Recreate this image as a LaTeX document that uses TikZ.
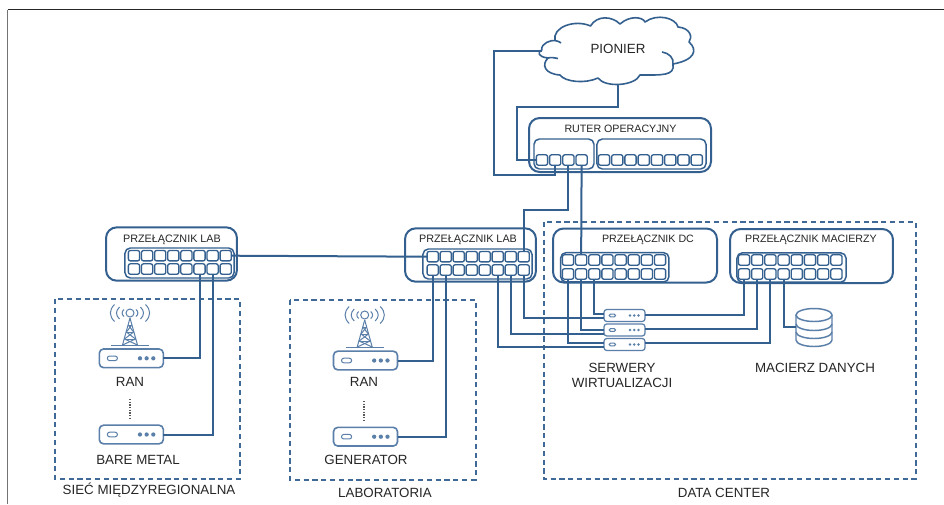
\documentclass[tikz,border=0pt]{standalone}
\usepackage{fontspec}
\setmainfont{Liberation Sans}
\usetikzlibrary{calc}
\definecolor{netblue}{HTML}{34608F}
\definecolor{zoneblue}{HTML}{3F6A98}
\definecolor{iconblue}{HTML}{5A7FA8}
\definecolor{inkdark}{HTML}{262626}
\tikzset{
  wire/.style={draw=netblue,line width=1.5pt},
  outerbox/.style={draw=netblue,line width=1.5pt,rounded corners=8pt,fill=white},
  innerbox/.style={draw=netblue,line width=1.1pt,rounded corners=4pt,fill=white},
  portbox/.style={draw=netblue,line width=1pt,rounded corners=1.5pt,fill=white,minimum width=8.4pt,minimum height=7.8pt,inner sep=0pt,outer sep=0pt},
  zone/.style={draw=zoneblue,line width=1.5pt,dash pattern=on 3.9pt off 2.7pt},
  lbl/.style={text=inkdark,font=\fontsize{10}{12}\selectfont,inner sep=0pt},
  hdr/.style={text=inkdark,font=\fontsize{8}{10}\selectfont,inner sep=0pt},
  hdrl/.style={text=inkdark,font=\fontsize{8.1}{10}\selectfont,inner sep=0pt},
  icon/.style={draw=iconblue,line width=.75pt},
}
\newcommand{\portrow}[5]{% name, x0, dx, y, n
  \foreach \i in {1,...,#5}{\node[portbox] (#1\i) at ({#2+(\i-1)*#3},#4) {};}}
\newcommand{\device}[4]{% name, cx, cy, scale
  \node[draw=iconblue,line width={.45pt+.75pt*#4},fill=white,rounded corners={3.2pt*#4},minimum width={48pt*#4},minimum height={14pt*#4},inner sep=0pt,outer sep=0pt] (#1) at (#2,#3) {};
  \node[draw=iconblue,line width=.75pt,rounded corners={1.6pt*#4},minimum width={7.5pt*#4},minimum height={3.4pt*#4},inner sep=0pt] (#1p) at ([xshift={9.8pt*#4}]#1.west) {};
  \fill[iconblue] ([xshift={-7.5pt*#4}]#1.east) circle[radius={1.6pt*#4}]
                 ([xshift={-12.5pt*#4}]#1.east) circle[radius={1.6pt*#4}]
                 ([xshift={-17.5pt*#4}]#1.east) circle[radius={1.6pt*#4}];}
\newcommand{\tower}[2]{% cx, y0 (centre of the small circle)
  \draw[icon] (#1,#2) circle[radius=4];
  \foreach \s in {-1,1}{
    \draw[icon] ({#1+\s*6},{#2-3.5}) .. controls ({#1+\s*8.5},{#2-1.5}) and ({#1+\s*8.5},{#2+1.5}) .. ({#1+\s*6},{#2+3.5});
    \draw[icon] ({#1+\s*10.5},{#2-6}) .. controls ({#1+\s*14.5},{#2-2}) and ({#1+\s*14.5},{#2+2}) .. ({#1+\s*10.5},{#2+6});
    \draw[icon] ({#1+\s*15.5},{#2-8.5}) .. controls ({#1+\s*21},{#2-3}) and ({#1+\s*21},{#2+3}) .. ({#1+\s*15.5},{#2+8.5});
    \draw[icon] (#1,{#2+5}) -- ({#1+\s*7.5},{#2+32});
    \draw[icon] ({#1+\s*1.8},{#2+12}) -- ({#1-\s*3.6},{#2+19}) -- ({#1+\s*5.5},{#2+26}) -- ({#1-\s*7.5},{#2+32});
  }
  \draw[icon] ({#1-2},{#2+12}) -- ({#1+2},{#2+12}) ({#1-3.6},{#2+19}) -- ({#1+3.6},{#2+19}) ({#1-5.5},{#2+26}) -- ({#1+5.5},{#2+26});
  \draw[icon] ({#1-19},{#2+32}) -- ({#1+19},{#2+32});}
\begin{document}
\begin{tikzpicture}[x=.75pt,y=-.75pt]
\useasboundingbox (0,0) rectangle (944,504);
\fill[white] (0,0) rectangle (944,504);
% page frame
\draw[draw=black!85,line width=1pt] (944,9.5) -- (7.5,9.5);
\draw[draw=black!55,line width=1.3pt] (7.5,9.5) -- (7.5,504);
% zones
\draw[zone] (55,299) rectangle (240,479);
\draw[zone] (289.5,300) rectangle (475.5,479.5);
\draw[zone] (543.5,222) rectangle (915.5,479);
% cloud
\path[fill=white,draw=netblue,line width=1.2pt,line join=round]
  (541.7,50) .. controls (541,43) and (551,40) .. (555,40.5)
  .. controls (552,27) and (575,19) .. (590.5,26)
  .. controls (597,15) and (612,16) .. (620,24)
  .. controls (630,15) and (643,17) .. (645,22)
  .. controls (657,13) and (676,18) .. (678,27)
  .. controls (690,28) and (693,37) .. (689,42)
  .. controls (698,50) and (695,60) .. (673,64)
  .. controls (675,76) and (662,75) .. (640,75)
  .. controls (635,86) and (605,88) .. (598,78)
  .. controls (585,84) and (565,82) .. (560,75)
  .. controls (545,74) and (541,65) .. (548,58)
  .. controls (538,57) and (537,52) .. (541.7,50) -- cycle;
\draw[netblue,line width=1.2pt] (548,58) .. controls (551,57) and (555,58) .. (558,58.5);
\draw[netblue,line width=1.2pt] (673,64) .. controls (674,58) and (669,53) .. (662,52);
\draw[netblue,line width=1.2pt] (555,40.5) .. controls (558,41) and (560,42) .. (561,43);
\node[lbl] (pionier) at (618,49) {PIONIER};
\coordinate (cloudW) at (541.7,51);
\coordinate (cloudS) at (617.5,85);
% router
\node[outerbox,minimum width=136.5pt,minimum height=40.5pt,inner sep=0pt] (router) at (620,145) {};
\node[hdr] (routerT) at (620.5,129) {RUTER OPERACYJNY};
\node[innerbox,minimum width=45pt,minimum height=22.5pt,inner sep=0pt] (rleft) at (564,154) {};
\node[innerbox,minimum width=81.8pt,minimum height=22.5pt,inner sep=0pt] (rright) at (651.5,154) {};
\portrow{ra}{542}{13.2}{160}{4}
\portrow{rb}{604}{13.25}{160}{8}
% lab switch A
\node[outerbox,minimum width=98.2pt,minimum height=40pt,inner sep=0pt] (labA) at (171.5,254) {};
\node[hdrl] (labAT) at (172,240) {PRZEŁĄCZNIK LAB};
\node[innerbox,minimum width=81.8pt,minimum height=22.5pt,inner sep=0pt] (labAin) at (179.5,263) {};
\portrow{lat}{134}{13.1}{255.7}{8}
\portrow{lab}{134}{13.1}{269}{8}
% lab switch B
\node[outerbox,minimum width=98.2pt,minimum height=40pt,inner sep=0pt] (labB) at (470.5,255) {};
\node[hdrl] (labBT) at (468,240) {PRZEŁĄCZNIK LAB};
\node[innerbox,minimum width=81.8pt,minimum height=22.5pt,inner sep=0pt] (labBin) at (477.5,264) {};
\portrow{lbt}{432.7}{13}{256.7}{8}
\portrow{lbb}{432.7}{13}{270}{8}
% DC switch
\node[outerbox,minimum width=123pt,minimum height=40.5pt,inner sep=0pt] (dcsw) at (635,255.5) {};
\node[hdr] (dcT) at (648,240) {PRZEŁĄCZNIK DC};
\node[innerbox,minimum width=81.2pt,minimum height=22pt,inner sep=0pt] (dcin) at (614.8,267.3) {};
\portrow{dct}{568}{13.15}{260}{8}
\portrow{dcb}{568}{13.15}{274}{8}
% array switch
\node[outerbox,minimum width=122.2pt,minimum height=40.5pt,inner sep=0pt] (arrsw) at (811.5,256) {};
\node[hdr] (arrT) at (811,240) {PRZEŁĄCZNIK MACIERZY};
\node[innerbox,minimum width=81.8pt,minimum height=22pt,inner sep=0pt] (arrin) at (791.5,267.5) {};
\portrow{mat}{744}{13.2}{260}{8}
\portrow{mab}{744}{13.2}{274}{8}
% devices
\device{ranA}{131.3}{358.3}{1}
\device{bare}{131.3}{434.5}{1}
\device{ranB}{365.5}{360.5}{1}
\device{gen}{365.5}{436.7}{1}
\device{srvA}{624.5}{315.5}{.64}
\device{srvB}{624.5}{330}{.64}
\device{srvC}{624.5}{344.5}{.64}
% towers
\tower{130}{313}
\tower{364.7}{315}
% dotted separators
\draw[draw=black!65,line width=.8pt,dash pattern=on .9pt off 1.1pt] (130,399) -- (130,419);
\draw[draw=black!65,line width=.8pt,dash pattern=on .9pt off 1.1pt] (364,401) -- (364,421);
% database
\path[draw=iconblue,line width=1.1pt,fill=white]
  (796,315) -- (796,340) arc[start angle=180,end angle=360,x radius=18,y radius=-6.5] -- (832,315);
\draw[iconblue,line width=1.1pt] (814,315) ellipse[x radius=18,y radius=6.5];
\draw[iconblue,line width=1.1pt] (796,324) arc[start angle=180,end angle=360,x radius=18,y radius=-6.5];
\draw[iconblue,line width=1.1pt] (796,332) arc[start angle=180,end angle=360,x radius=18,y radius=-6.5];
\coordinate (dbW) at (796,326.7);
% routing waypoints
\coordinate (cloudJogA) at (494,175);
\coordinate (cloudJogB) at (517,107);
\coordinate (routerJog) at (523.7,210);
\coordinate (srvAl) at (604,318.3);
\coordinate (srvBl) at (604,334);
\coordinate (srvCl) at (604,347.3);
\coordinate (srvAd) at (604,314.3);
\coordinate (srvBd) at (604,329.7);
\coordinate (srvCd) at (604,343);
\coordinate (srvAr) at (645,315);
\coordinate (srvBr) at (645,329);
\coordinate (srvCr) at (645,342.7);
% connectors
\draw[wire] (ra2.south) |- (cloudJogA) |- (cloudW);
\draw[wire] (ra1.west) -| (cloudJogB) -| (cloudS);
\draw[wire] (ra3.south) |- (routerJog) -- (lbt8.north);
\draw[wire] (ra4.south) -- (dct2.north);
\draw[wire] (lat8.east) -- (lbt1.west);
\draw[wire] (lab6.south) |- (ranA.east);
\draw[wire] (lab7.south) |- (bare.east);
\draw[wire] (lbb1.south) |- (ranB.east);
\draw[wire] (lbb2.south) |- (gen.east);
\draw[wire] (lbb8.south) |- (srvAl);
\draw[wire] (lbb7.south) |- (srvBl);
\draw[wire] (lbb6.south) |- (srvCl);
\draw[wire] (dcb3.south) |- (srvAd);
\draw[wire] (dcb2.south) |- (srvBd);
\draw[wire] (dcb1.south) |- (srvCd);
\draw[wire] (mab1.south) |- (srvAr);
\draw[wire] (mab2.south) |- (srvBr);
\draw[wire] (mab3.south) |- (srvCr);
\draw[wire] (mab4.south) |- (dbW);
% labels
\node[lbl] (t1) at (130,382) {RAN};
\node[lbl] (t2) at (138,460) {BARE METAL};
\node[lbl] (t3) at (149,490) {SIEĆ MIĘDZYREGIONALNA};
\node[lbl] (t4) at (364,382) {RAN};
\node[lbl] (t5) at (366,460) {GENERATOR};
\node[lbl] (t6) at (385,493) {LABORATORIA};
\node[lbl] (t7) at (622,368) {SERWERY};
\node[lbl] (t8) at (622,383) {WIRTUALIZACJI};
\node[lbl] (t9) at (815,368) {MACIERZ DANYCH};
\node[lbl] (t10) at (724,493) {DATA CENTER};
\end{tikzpicture}
\end{document}
